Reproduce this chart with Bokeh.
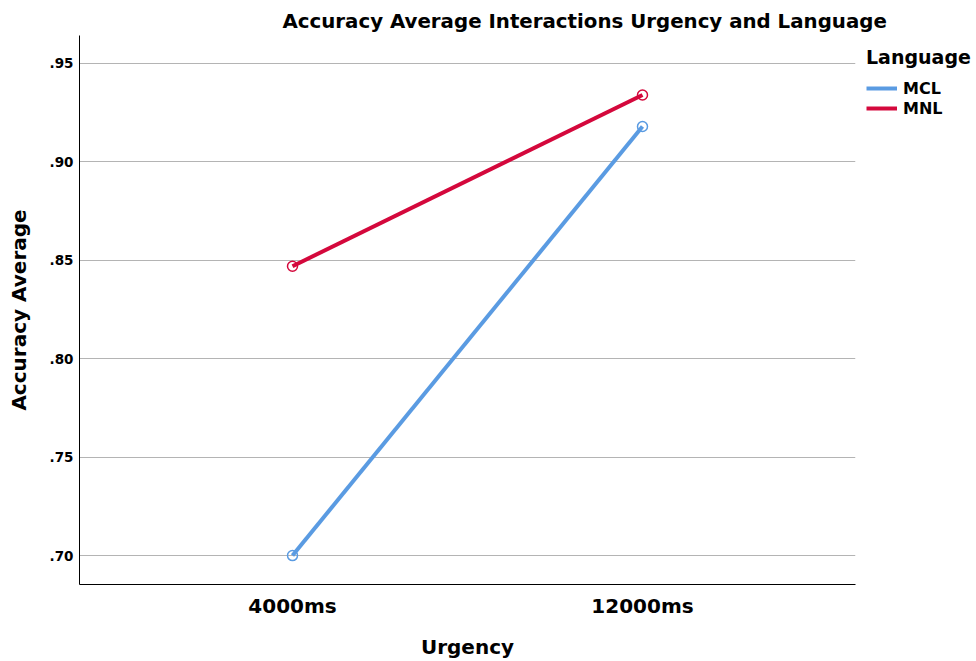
from bokeh.plotting import figure
from bokeh.models import (Range1d, FixedTicker, CustomJSTickFormatter, Legend, LegendItem, Title)
from bokeh.embed import file_html
from bokeh.resources import INLINE

# ---- data ----
urgency = ["4000ms", "12000ms"]
languages = ["MCL", "MNL"]
mcl_acc = [0.700, 0.918]
mnl_acc = [0.847, 0.934]
y_ticks = [0.70, 0.75, 0.80, 0.85, 0.90, 0.95]

colors = {"MCL": "#5A9BE2", "MNL": "#D4083C"}
FONT = "DejaVu Sans"

xpos = list(range(len(urgency)))

p = figure(frame_width=776, frame_height=549, output_backend="svg", toolbar_location=None,
           x_range=Range1d(-0.6086, 1.6086), y_range=Range1d(0.6853, 0.9642),
           min_border_left=79, min_border_right=0, min_border_top=35, min_border_bottom=77,
           title=None)

t = Title(text="Accuracy Average Interactions Urgency and Language", align="left",
          offset=203, text_font=FONT, text_font_size="19.8px", text_font_style="bold",
          text_color="black", standoff=6)
p.add_layout(t, "above")

p.outline_line_color = None
p.background_fill_color = "white"
p.border_fill_color = "white"

# axes
p.xaxis.ticker = FixedTicker(ticks=xpos)
p.xaxis.major_label_overrides = {i: u for i, u in enumerate(urgency)}
p.yaxis.ticker = FixedTicker(ticks=y_ticks)
p.yaxis.formatter = CustomJSTickFormatter(code="return tick.toFixed(2).replace(/^0/, '');")
for ax in (p.xaxis[0], p.yaxis[0]):
    ax.major_tick_line_color = None
    ax.minor_tick_line_color = None
    ax.axis_line_color = "black"
    ax.axis_line_width = 1
    ax.major_label_text_font = FONT
    ax.major_label_text_font_style = "bold"
    ax.major_label_text_color = "black"
    ax.axis_label_text_font = FONT
    ax.axis_label_text_font_style = "bold"
    ax.axis_label_text_color = "black"
    ax.axis_label_text_font_size = "20px"
p.xaxis.major_label_text_font_size = "20px"
p.yaxis.major_label_text_font_size = "13.5px"
p.xaxis.axis_label = "Urgency"
p.yaxis.axis_label = "Accuracy Average"
p.xaxis.major_label_standoff = 3
p.xaxis.axis_label_standoff = 14
p.yaxis.major_label_standoff = 0
p.yaxis.axis_label_standoff = 16

p.xgrid.grid_line_color = None
p.ygrid.ticker = FixedTicker(ticks=y_ticks)
p.ygrid.grid_line_color = "#B4B4B4"
p.ygrid.grid_line_width = 1

items = []
for lang, vals in zip(languages, [mcl_acc, mnl_acc]):
    r = p.line(xpos, vals, line_color=colors[lang], line_width=4)
    p.scatter(xpos, vals, marker="circle", size=10, fill_color="white", fill_alpha=0,
              line_color=colors[lang], line_width=1.5)
    items.append(LegendItem(label=lang, renderers=[r]))

leg = Legend(items=items, location="top_left", padding=6, margin=11, spacing=0,
             title="Language", title_text_font=FONT, title_text_font_style="bold",
             title_text_font_size="19px", title_text_color="black", title_standoff=10,
             glyph_width=31, glyph_height=20, label_height=20, label_standoff=6,
             label_text_font=FONT, label_text_font_style="bold", label_text_font_size="16px",
             label_text_color="black", border_line_color=None, background_fill_alpha=0)
p.add_layout(leg, "right")

open("out.html", "w").write(file_html(p, INLINE))
